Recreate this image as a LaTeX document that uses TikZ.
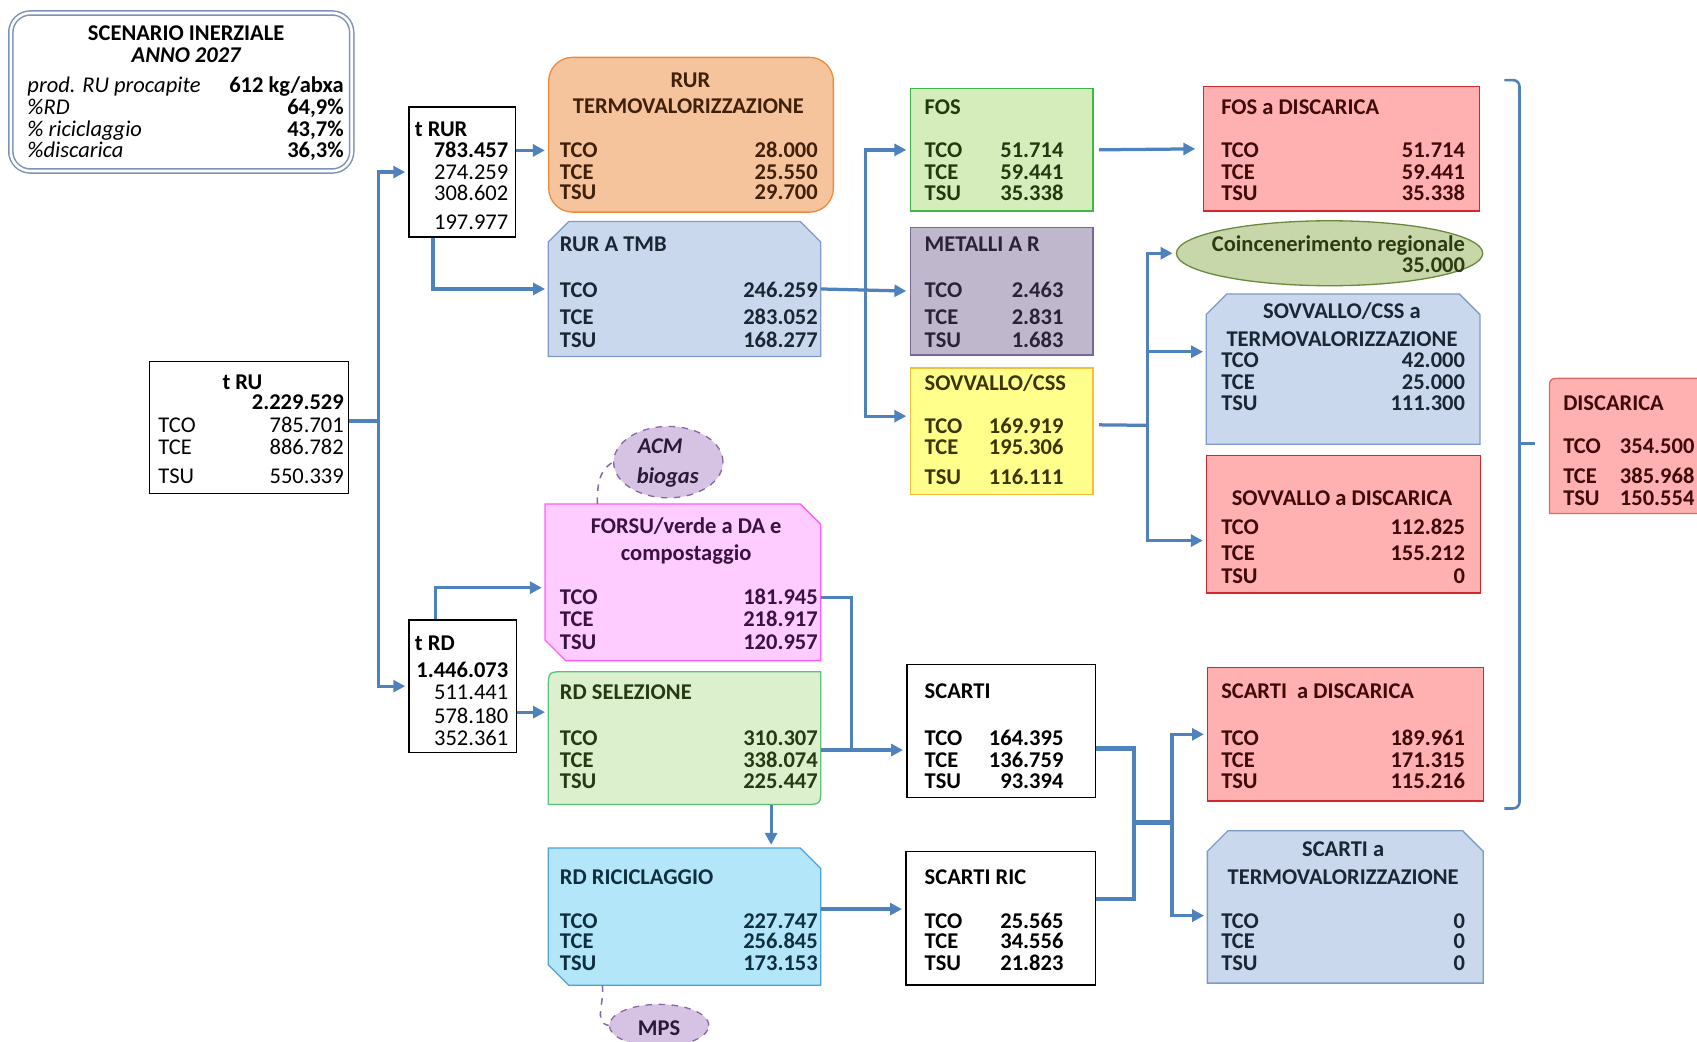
\documentclass[tikz,border=0pt]{standalone}
\usepackage{fontspec}
\setmainfont{Carlito}
\usetikzlibrary{arrows.meta,shapes.geometric,fit}

\definecolor{flowblue}{HTML}{4F81BD}
\definecolor{scenline}{HTML}{7F92B5}
\definecolor{rurfill}{HTML}{F6C49C}\definecolor{rurline}{HTML}{EE8A3A}\definecolor{rurtext}{HTML}{40200A}
\definecolor{tmbfill}{HTML}{C9D8EC}\definecolor{tmbline}{HTML}{7E9BC8}\definecolor{tmbtext}{HTML}{1A2636}
\definecolor{fosfill}{HTML}{D5EDBB}\definecolor{fosline}{HTML}{3DB54A}\definecolor{fostext}{HTML}{22380E}
\definecolor{metfill}{HTML}{BFB7CC}\definecolor{metline}{HTML}{77679A}\definecolor{mettext}{HTML}{2B2238}
\definecolor{cssfill}{HTML}{FFFF8C}\definecolor{cssline}{HTML}{F4BF3A}\definecolor{csstext}{HTML}{3A3500}
\definecolor{disfill}{HTML}{FFB0B0}\definecolor{disline}{HTML}{D4262C}\definecolor{distext}{HTML}{3F0A0A}
\definecolor{coifill}{HTML}{C7D7A9}\definecolor{coiline}{HTML}{6A8A3A}\definecolor{coitext}{HTML}{2D3A12}
\definecolor{acmfill}{HTML}{D6C2E2}\definecolor{acmline}{HTML}{8866AA}\definecolor{acmtext}{HTML}{2A1A3A}
\definecolor{forfill}{HTML}{FFCCFF}\definecolor{forline}{HTML}{FF5CFF}\definecolor{fortext}{HTML}{3A1240}
\definecolor{selfill}{HTML}{DDF0CD}\definecolor{selline}{HTML}{5BC27C}\definecolor{seltext}{HTML}{233A12}
\definecolor{ricfill}{HTML}{B3E6F8}\definecolor{ricline}{HTML}{4DA3D8}\definecolor{rictext}{HTML}{0E2F40}

\tikzset{
  flow/.style={draw=flowblue, line width=1.5pt, -{Triangle[length=5.5pt,width=5.5pt]}, shorten >=1.5pt},
  pipe/.style={draw=flowblue, line width=1.5pt},
  box/.style={draw, inner sep=0pt, line width=0.6pt},
  spot/.style={box, ellipse, dashed, draw=acmline, fill=acmfill},
  lbl/.style={anchor=west, inner sep=0pt, text height=6.7pt, text depth=0pt, font=\bfseries},
  val/.style={anchor=east, inner sep=0pt, text height=6.7pt, text depth=0pt, font=\bfseries},
  tit/.style={lbl},
  ctit/.style={inner sep=0pt, text height=6.7pt, text depth=0pt, font=\bfseries}
}

% TCO / TCE / TSU rows of a box
\newcommand{\tvals}[9]{%
  \node[lbl] (#1-co) at (#2,#4) {TCO};
  \node[lbl] (#1-ce) at (#2,#5) {TCE};
  \node[lbl] (#1-su) at (#2,#6) {TSU};
  \node[val] (#1-vco) at (#3,#4) {#7};
  \node[val] (#1-vce) at (#3,#5) {#8};
  \node[val] (#1-vsu) at (#3,#6) {#9};}
% outline of a box with both top corners cut
\newcommand{\topcut}[2]{%
  \filldraw[#2] (#1.south west) -- ([yshift=-9.5pt]#1.north west) -- ([xshift=9.5pt]#1.north west)
    -- ([xshift=-9.5pt]#1.north east) -- ([yshift=-9.5pt]#1.north east) -- (#1.south east) -- cycle;}
% outline of a box with top right and bottom left corners cut
\newcommand{\crosscut}[2]{%
  \filldraw[#2] (#1.north west) -- ([xshift=-9.5pt]#1.north east) -- ([yshift=-9.5pt]#1.north east)
    -- (#1.south east) -- ([xshift=9.5pt]#1.south west) -- ([yshift=9.5pt]#1.south west) -- cycle;}

\begin{document}
\begin{tikzpicture}[x=0.5pt, y=-0.5pt]
  \fontsize{10.4}{12.5}\selectfont
  \useasboundingbox (0,0) rectangle (1568,962);

  % scenario
  \node[draw=scenline, double, double distance=1.2pt, line width=0.7pt, rounded corners=9pt,
        inner sep=0pt, fit={(10,12) (325,158)}] (scen) {};
  \node[ctit] (scen-t1) at (172,31) {SCENARIO INERZIALE};
  \node[ctit, font=\bfseries\itshape] (scen-t2) at (172,51) {ANNO 2027};
  \node[lbl, font=\itshape] (scen-l1) at (25,79) {prod. RU procapite};
  \node[lbl, font=\itshape] (scen-l2) at (25,99) {\%RD};
  \node[lbl, font=\itshape] (scen-l3) at (25,119) {\% riciclaggio};
  \node[lbl, font=\itshape] (scen-l4) at (25,139) {\%discarica};
  \node[val] (scen-v1) at (318,79) {612 kg/abxa};
  \node[val] (scen-v2) at (318,99) {64,9\%};
  \node[val] (scen-v3) at (318,119) {43,7\%};
  \node[val] (scen-v4) at (318,139) {36,3\%};

  % totals
  \node[box, fit={(138,334) (322,456)}] (tru) {};
  \node[ctit] (tru-t) at (224,353) {t RU};
  \node[val] (tru-v) at (318,372) {2.229.529};
  \begin{scope}[lbl/.append style={font=\mdseries}, val/.append style={font=\mdseries}]
    \tvals{tru}{146}{318}{393}{413}{440}{785.701}{886.782}{550.339}
    \node[val] (trur-v2) at (470,159) {274.259};
    \node[val] (trur-v3) at (470,179) {308.602};
    \node[val] (trur-v4) at (470,205) {197.977};
    \node[val] (trd-v2) at (470,640) {511.441};
    \node[val] (trd-v3) at (470,662) {578.180};
    \node[val] (trd-v4) at (470,682) {352.361};
  \end{scope}
  \node[box, fit={(378,99) (476,219)}] (trur) {};
  \node[tit] (trur-t) at (383,119) {t RUR};
  \node[val] (trur-v1) at (470,139) {783.457};
  \node[box, fit={(378,573) (477,695)}] (trd) {};
  \node[tit] (trd-t) at (383,594) {t RD};
  \node[val] (trd-v1) at (470,619) {1.446.073};

  % RUR branch
  \begin{scope}[every node/.append style={text=rurtext}]
    \node[box, draw=rurline, fill=rurfill, rounded corners=11pt, fit={(507,53) (770,196)}] (rurt) {};
    \node[ctit] (rurt-t1) at (638,74) {RUR};
    \node[ctit] (rurt-t2) at (636,98) {TERMOVALORIZZAZIONE};
    \tvals{rurt}{517}{756}{139}{159}{178}{28.000}{25.550}{29.700}
  \end{scope}
  \begin{scope}[every node/.append style={text=tmbtext}]
    \node[inner sep=0pt, fit={(507,205) (758,329)}] (tmb) {};
    \topcut{tmb}{draw=tmbline, fill=tmbfill, line width=0.6pt}
    \node[tit] (tmb-t) at (517,226) {RUR A TMB};
    \tvals{tmb}{517}{756}{268}{293}{314}{246.259}{283.052}{168.277}
  \end{scope}
  \begin{scope}[every node/.append style={text=fostext}]
    \node[box, draw=fosline, fill=fosfill, fit={(841,82) (1010,195)}] (fos) {};
    \node[tit] (fos-t) at (854,99) {FOS};
    \tvals{fos}{854}{983}{139}{159}{179}{51.714}{59.441}{35.338}
  \end{scope}
  \begin{scope}[every node/.append style={text=mettext}]
    \node[box, draw=metline, fill=metfill, fit={(841,210) (1010,328)}] (met) {};
    \node[tit] (met-t) at (854,226) {METALLI A R};
    \tvals{met}{854}{983}{268}{293}{314}{2.463}{2.831}{1.683}
  \end{scope}
  \begin{scope}[every node/.append style={text=csstext}]
    \node[box, draw=cssline, fill=cssfill, fit={(841,340) (1010,457)}] (css) {};
    \node[tit] (css-t) at (854,354) {SOVVALLO/CSS};
    \tvals{css}{854}{983}{394}{413}{441}{169.919}{195.306}{116.111}
  \end{scope}
  \begin{scope}[every node/.append style={text=distext}]
    \node[box, draw=disline, fill=disfill, fit={(1112,80) (1367,195)}] (fosd) {};
    \node[tit] (fosd-t) at (1128,99) {FOS a DISCARICA};
    \tvals{fosd}{1128}{1354}{139}{159}{179}{51.714}{59.441}{35.338}
  \end{scope}
  \begin{scope}[every node/.append style={text=coitext}]
    \node[box, ellipse, draw=coiline, fill=coifill, minimum width=141.5pt, minimum height=30pt] (coi) at (1228.5,234) {};
    \node[val] (coi-t) at (1354,226) {Coincenerimento regionale};
    \node[val] (coi-v) at (1354,245) {35.000};
  \end{scope}
  \begin{scope}[every node/.append style={text=tmbtext}]
    \node[inner sep=0pt, fit={(1115,272) (1367,410)}] (csst) {};
    \topcut{csst}{draw=tmbline, fill=tmbfill, line width=0.6pt}
    \node[ctit] (csst-t1) at (1240,288) {SOVVALLO/CSS a};
    \node[ctit] (csst-t2) at (1240,313) {TERMOVALORIZZAZIONE};
    \tvals{csst}{1128}{1354}{333}{353}{373}{42.000}{25.000}{111.300}
  \end{scope}
  \begin{scope}[every node/.append style={text=distext}]
    \node[box, draw=disline, fill=disfill, fit={(1115,421) (1368,548)}] (sovd) {};
    \node[ctit] (sovd-t) at (1240,460) {SOVVALLO a DISCARICA};
    \tvals{sovd}{1128}{1354}{487}{511}{532}{112.825}{155.212}{0}
  \end{scope}
  \begin{scope}[every node/.append style={text=distext}]
    \node[inner sep=0pt, fit={(1432,350) (1580,474)}] (disc) {};
    \filldraw[fill=disfill, draw=disline!70, line width=0.6pt] (disc.south west)
      -- ([yshift=-6pt]disc.north west) .. controls (disc.north west) .. ([xshift=6pt]disc.north west)
      -- (disc.north east) -- (disc.south east) -- cycle;
    \node[tit] (disc-t) at (1444,373) {DISCARICA};
    \tvals{disc}{1444}{1566}{412}{440}{460}{354.500}{385.968}{150.554}
  \end{scope}

  % RD branch
  \begin{scope}[every node/.append style={text=fortext}]
    \node[inner sep=0pt, fit={(504,466) (758,610)}] (forsu) {};
    \crosscut{forsu}{draw=forline, fill=forfill, line width=0.6pt}
    \node[ctit] (forsu-t1) at (634,486) {FORSU/verde a DA e};
    \node[ctit] (forsu-t2) at (634,511) {compostaggio};
    \tvals{forsu}{517}{756}{552}{572}{593}{181.945}{218.917}{120.957}
  \end{scope}
  \begin{scope}[every node/.append style={text=acmtext}]
    \node[spot, minimum width=50.5pt, minimum height=33pt] (acm) at (617.5,427) {};
    \node[ctit, font=\bfseries\itshape] (acm-t1) at (610,412) {ACM};
    \node[ctit, font=\bfseries\itshape] (acm-t2) at (617,440) {biogas};
  \end{scope}
  \begin{scope}[every node/.append style={text=seltext}]
    \node[inner sep=0pt, fit={(507,621) (758,743)}] (rdsel) {};
    \filldraw[fill=selfill, draw=selline, line width=0.6pt] (rdsel.south west)
      -- ([yshift=-8pt]rdsel.north west) .. controls (rdsel.north west) .. ([xshift=8pt]rdsel.north west)
      -- (rdsel.north east) -- ([yshift=8pt]rdsel.south east)
      .. controls (rdsel.south east) .. ([xshift=-8pt]rdsel.south east) -- cycle;
    \node[tit] (rdsel-t) at (517,640) {RD SELEZIONE};
    \tvals{rdsel}{517}{756}{682}{702}{722}{310.307}{338.074}{225.447}
  \end{scope}
  \begin{scope}[every node/.append style={text=rictext}]
    \node[inner sep=0pt, fit={(507,784) (758,910)}] (rdric) {};
    \crosscut{rdric}{draw=ricline, fill=ricfill, line width=0.6pt}
    \node[tit] (rdric-t) at (517,811) {RD RICICLAGGIO};
    \tvals{rdric}{517}{756}{851}{870}{890}{227.747}{256.845}{173.153}
  \end{scope}
  \begin{scope}[every node/.append style={text=acmtext}]
    \node[spot, minimum width=46pt, minimum height=19.5pt] (mps) at (609,947.5) {};
    \node[ctit] (mps-t) at (609,950) {MPS};
  \end{scope}
  \node[box, fill=white, fit={(838,614) (1012,737)}] (sc) {};
  \node[tit] (sc-t) at (854,639) {SCARTI};
  \tvals{sc}{854}{983}{682}{702}{722}{164.395}{136.759}{93.394}
  \node[box, fill=white, fit={(837,787) (1012,910)}] (scr) {};
  \node[tit] (scr-t) at (854,811) {SCARTI RIC};
  \tvals{scr}{854}{983}{851}{870}{890}{25.565}{34.556}{21.823}
  \begin{scope}[every node/.append style={text=distext}]
    \node[box, draw=disline, fill=disfill, fit={(1116,617) (1371,740)}] (scd) {};
    \node[tit] (scd-t) at (1128,639) {SCARTI\ \ a DISCARICA};
    \tvals{scd}{1128}{1354}{682}{702}{722}{189.961}{171.315}{115.216}
  \end{scope}
  \begin{scope}[every node/.append style={text=tmbtext}]
    \node[inner sep=0pt, fit={(1116,768) (1370,908)}] (sct) {};
    \topcut{sct}{draw=tmbline, fill=tmbfill, line width=0.6pt}
    \node[ctit] (sct-t1) at (1241,785) {SCARTI a};
    \node[ctit] (sct-t2) at (1241,811) {TERMOVALORIZZAZIONE};
    \tvals{sct}{1128}{1354}{851}{870}{890}{0}{0}{0}
  \end{scope}

  % connectors
  \coordinate (trunk) at (350,389);
  \coordinate (split1) at (800,267);
  \coordinate (split2) at (1060,393);
  \coordinate (join1) at (787,693);
  \coordinate (join2) at (1048,760);
  \coordinate (join3) at (1083,760);
  \draw[pipe] ([yshift=3pt]tru.east) -- (trunk);
  \draw[flow] (trunk) |- (trur.west);
  \draw[flow] (trunk) |- (trd.west);
  \draw[flow] ([yshift=10pt]trur.east) -- ([yshift=10pt]trur.east -| rurt.west);
  \draw[flow] ([xshift=-13.5pt]trur.south) |- (tmb.west);
  \draw[flow] ([xshift=-12.5pt]trd.north) |- ([yshift=-2.5pt]forsu.west);
  \draw[flow] ([yshift=-12pt]trd.east) -- ([yshift=-12pt]trd.east -| rdsel.west);
  \draw[flow] (tmb.east) -- (met.west);
  \draw[flow] (split1) |- (fos.west);
  \draw[flow] (split1) |- ([yshift=7pt]css.west);
  \draw[flow, shorten <=2.5pt, shorten >=3.5pt] (fos.east) -- (fosd.west);
  \draw[pipe, shorten <=2.5pt] ([yshift=3pt]css.east) -- (split2);
  \draw[flow] (split2) |- (coi.west);
  \draw[flow] (split2) |- ([yshift=8pt]csst.west);
  \draw[flow] (split2) |- ([yshift=-7.5pt]sovd.west);
  \draw[pipe] ([yshift=-7pt]forsu.east) -| (join1);
  \draw[flow] (rdsel.east |- join1) -- (sc.west |- join1);
  \draw[flow] ([xshift=40pt]rdsel.south) -- ([xshift=40pt]rdric.north);
  \draw[flow] ([yshift=3.5pt]rdric.east) -- ([yshift=3.5pt]rdric.east -| scr.west);
  \draw[pipe, line width=2pt] ([yshift=-8pt]sc.east) -| (join2) |- ([yshift=9pt]scr.east);
  \draw[pipe, line width=2pt] (join2) -- (join3);
  \draw[flow] (join3) |- (scd.west);
  \draw[flow] (join3) |- ([yshift=-4pt]sct.west);
  \draw[dashed, draw=acmline, line width=0.7pt] ([xshift=-39.5pt]forsu.north) to[out=90, in=210] (acm.west);
  \draw[dashed, draw=acmline, line width=0.7pt] ([xshift=-38pt]rdric.south) to[out=-80, in=170] (mps.west);

  % bracket to DISCARICA
  \coordinate (br-top) at (1390,74);
  \coordinate (br-mid) at (1404,410);
  \coordinate (br-bot) at (1390,747);
  \draw[pipe, line width=1.2pt, rounded corners=3pt] (br-top) -| (br-mid) |- (br-bot);
  \draw[pipe, line width=1.2pt] (br-mid) -- ++(14,0);
\end{tikzpicture}
\end{document}
